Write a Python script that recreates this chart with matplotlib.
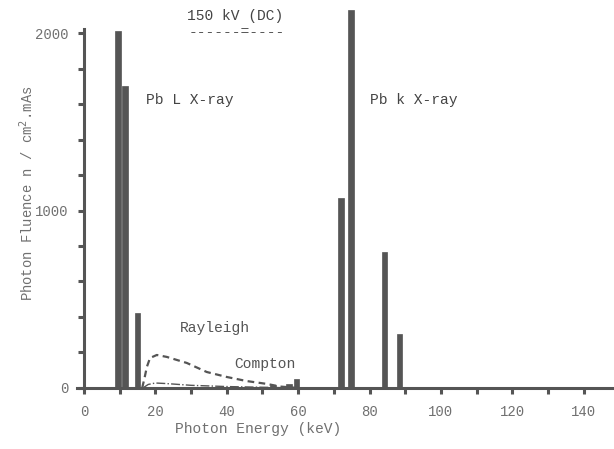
import matplotlib
matplotlib.use("Agg")
import matplotlib.pyplot as plt
import numpy as np

# Line spectrum (keV, photons / cm^2.mAs)
peak_energy = [9.5, 11.5, 15.0, 53.0, 57.5, 59.5, 72.1, 74.8, 84.2, 88.4]
peak_fluence = [2010, 1700, 420, 15, 25, 50, 1070, 2130, 766, 304]

# Rayleigh scatter (dashed)
rayleigh_e = [16.3, 17.0, 17.6, 18.5, 20.4, 23.2, 28.8, 34.4, 40.0, 45.6, 51.2, 55.0, 60.0]
rayleigh_f = [0, 60, 118, 169, 186, 175, 141, 90, 62, 39, 23, 8, 0]

# Compton scatter (dash-dot)
compton_e = [16.5, 18.0, 20.0, 23.0, 30.0, 40.0, 50.0, 60.0, 148.0]
compton_f = [0, 20, 28, 25, 15, 8, 4, 0, 0]

x_ticks = [0, 20, 40, 60, 80, 100, 120, 140]
y_ticks = [0, 1000, 2000]

FONT = "Liberation Mono"
dark = "#555555"
txt = "#707070"

fig = plt.figure(figsize=(6.14, 4.49), dpi=100)
ax = fig.add_axes([0.1252, 0.1359, 0.8748, 0.8498])
ax.set_xlim(-2, 148.5)
ax.set_ylim(0, 2150)

ax.bar(peak_energy, peak_fluence, width=1.6, color=dark, edgecolor=dark, linewidth=0.5, zorder=3)
ax.plot(rayleigh_e, rayleigh_f, linestyle=(0, (3, 2)), color=dark, lw=1.6, zorder=2)
ax.plot(compton_e, compton_f, linestyle="-.", color=dark, lw=1.0, zorder=2)

for s in ["top", "right"]:
    ax.spines[s].set_visible(False)
ax.spines["left"].set_position(("data", 0))
ax.spines["left"].set_bounds(0, 2020)
ax.spines["bottom"].set_bounds(-2, 148.5)
for s in ["left", "bottom"]:
    ax.spines[s].set_color(dark)
    ax.spines[s].set_linewidth(2.2)

ax.set_xticks(x_ticks)
ax.set_xticks(np.arange(0, 150, 10), minor=True)
ax.set_yticks(y_ticks)
ax.set_yticks(np.arange(0, 2001, 200), minor=True)
ax.tick_params(axis="both", which="both", direction="out", color=dark, width=2.2, length=4)
ax.tick_params(axis="x", which="major", pad=8)
ax.tick_params(axis="y", which="major", pad=7)
for lab in ax.get_xticklabels() + ax.get_yticklabels():
    lab.set_fontfamily(FONT)
    lab.set_fontsize(10)
    lab.set_color(txt)

fig.text(258 / 614, 1 - 429 / 449, "Photon Energy (keV)", family=FONT, fontsize=10.5,
         color=txt, ha="center", va="center")
fig.text(27 / 614, 1 - 193 / 449, "Photon Fluence n / cm$^{2}$.mAs", family=FONT,
         fontsize=10, color=txt, ha="center", va="center", rotation=90)

ax.text(17.5, 1620, "Pb L X-ray", family=FONT, fontsize=10.5, color="#444444", va="center")
ax.text(80, 1620, "Pb k X-ray", family=FONT, fontsize=10.5, color="#444444", va="center")
ax.text(27, 340, "Rayleigh", family=FONT, fontsize=10.5, color="#555555", va="center")
ax.text(42, 135, "Compton", family=FONT, fontsize=10.5, color="#555555", va="center")
fig.text(235 / 614, 1 - 16 / 449, "150 kV (DC)", family=FONT, fontsize=10.5,
         color="#444444", ha="center", va="center")
fig.text(237 / 614, 1 - 32 / 449, "------=----", family=FONT, fontsize=10.5,
         color="#555555", ha="center", va="center")

fig.savefig("out.png", dpi=100)
